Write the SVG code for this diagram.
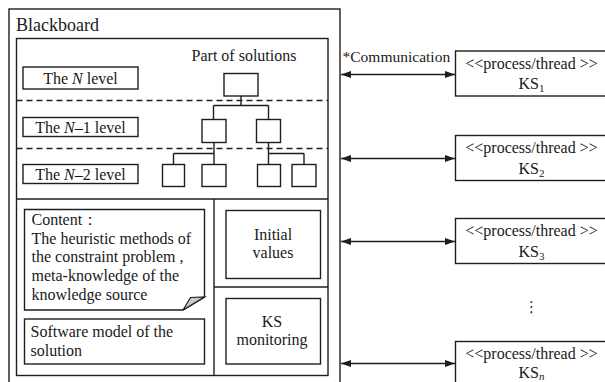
<svg xmlns="http://www.w3.org/2000/svg" width="605" height="382" viewBox="0 0 605 382">
  <defs>
    <style>
      .box { fill: #ffffff; stroke: #1e1e1e; stroke-width: 1.4; }
      .ln { fill: none; stroke: #1e1e1e; stroke-width: 1.4; }
      .dash { fill: none; stroke: #1e1e1e; stroke-width: 1.4; stroke-dasharray: 6 4; }
      .c { text-anchor: middle; }
    </style>
    <marker id="ah" viewBox="0 0 10 10" refX="10" refY="5" markerWidth="10" markerHeight="10" markerUnits="userSpaceOnUse" orient="auto-start-reverse">
      <path d="M0,1.5 L10,5 L0,8.5 Z" fill="#1e1e1e"/>
    </marker>
  </defs>

  <rect width="605" height="382" fill="#ffffff"/>

  <g font-family="Liberation Serif, Times New Roman, serif" font-size="16" fill="#1a1a1a">

  <!-- Blackboard container -->
  <g id="blackboard">
    <rect class="box" x="9" y="9" width="331" height="390"/>
    <text x="16" y="31" font-size="18">Blackboard</text>
    <rect class="box" x="16.5" y="38.5" width="311.5" height="337"/>
    <line class="ln" x1="16.5" y1="199" x2="328" y2="199"/>
    <line class="ln" x1="214" y1="199" x2="214" y2="375.5"/>
    <line class="ln" x1="214" y1="287" x2="328" y2="287"/>
    <line class="dash" x1="16.5" y1="100.5" x2="328" y2="100.5"/>
    <line class="dash" x1="16.5" y1="148.5" x2="328" y2="148.5"/>
  </g>

  <!-- Level labels -->
  <g id="level-n">
    <rect class="box" x="23" y="67" width="115" height="22"/>
    <text class="c" x="80.5" y="83.5">The <tspan font-style="italic">N</tspan> level</text>
  </g>
  <g id="level-n1">
    <rect class="box" x="23" y="117.5" width="115" height="19"/>
    <text class="c" x="80.5" y="132.5">The <tspan font-style="italic">N</tspan>–1 level</text>
  </g>
  <g id="level-n2">
    <rect class="box" x="23" y="164.5" width="115" height="19"/>
    <text class="c" x="80.5" y="179.5">The <tspan font-style="italic">N</tspan>–2 level</text>
  </g>

  <!-- Partial solution tree -->
  <g id="solutions">
    <text class="c" x="244" y="61">Part of solutions</text>
    <rect class="box" x="224" y="73.5" width="34" height="22.5"/>
    <rect class="box" x="202" y="119.5" width="24" height="23"/>
    <rect class="box" x="256.5" y="119.5" width="24" height="23"/>
    <rect class="box" x="162.5" y="164.5" width="22" height="22"/>
    <rect class="box" x="202" y="164.5" width="24" height="22"/>
    <rect class="box" x="257.5" y="164.5" width="23" height="22"/>
    <rect class="box" x="292" y="164.5" width="24" height="22"/>
  </g>

  <g id="tree-links">
    <path class="ln" d="M241,96 V105.5 M213.5,105.5 H268.5 M213.5,105.5 V119.5 M268.5,105.5 V119.5"/>
    <path class="ln" d="M214,142.5 V164.5 M173.5,153.5 H214 M173.5,153.5 V164.5"/>
    <path class="ln" d="M268.5,142.5 V164.5 M268.5,153.5 H304 M304,153.5 V164.5"/>
  </g>

  <!-- Content note with folded corner -->
  <g id="content-note">
    <path class="box" d="M24.5,209.5 H204.5 V297 L183,310 H24.5 Z"/>
    <path d="M183,310 L190.5,297.5 L204.5,297 Z" fill="#c8c8c8" stroke="#1e1e1e" stroke-width="1.2"/>
    <text x="31.5" y="225">Content：</text>
    <text x="31.5" y="243.8">The heuristic methods of</text>
    <text x="31.5" y="262.4">the constraint problem ,</text>
    <text x="31.5" y="281">meta-knowledge of the</text>
    <text x="31.5" y="299.6">knowledge source</text>
  </g>

  <g id="software-model">
    <rect class="box" x="24.5" y="319" width="180" height="45"/>
    <text x="30.5" y="336.5">Software model of the</text>
    <text x="30.5" y="355.5">solution</text>
  </g>

  <g id="initial-values">
    <rect class="box" x="226" y="210.5" width="94.5" height="68"/>
    <text class="c" x="273" y="240">Initial</text>
    <text class="c" x="273" y="258">values</text>
  </g>

  <g id="ks-monitoring">
    <rect class="box" x="226" y="298.5" width="94.5" height="65.5"/>
    <text class="c" x="272" y="327">KS</text>
    <text class="c" x="272" y="345">monitoring</text>
  </g>

  <!-- Knowledge sources -->
  <g id="ks1">
    <rect class="box" x="455.5" y="51" width="155" height="45"/>
    <text class="c" x="531.5" y="68.5">&lt;&lt;process/thread &gt;&gt;</text>
    <text class="c" x="531.5" y="89">KS<tspan font-size="11" dy="3">1</tspan></text>
  </g>
  <g id="ks2">
    <rect class="box" x="455.5" y="135.5" width="155" height="45"/>
    <text class="c" x="531.5" y="153">&lt;&lt;process/thread &gt;&gt;</text>
    <text class="c" x="531.5" y="173.5">KS<tspan font-size="11" dy="3">2</tspan></text>
  </g>
  <g id="ks3">
    <rect class="box" x="455.5" y="218.5" width="155" height="45"/>
    <text class="c" x="531.5" y="236">&lt;&lt;process/thread &gt;&gt;</text>
    <text class="c" x="531.5" y="256.5">KS<tspan font-size="11" dy="3">3</tspan></text>
  </g>
  <g id="ks-ellipsis">
    <text class="c" x="531.5" y="312" font-family="DejaVu Sans, sans-serif" font-size="15">⋮</text>
  </g>
  <g id="ksn">
    <rect class="box" x="455.5" y="341.5" width="155" height="50"/>
    <text class="c" x="531.5" y="359">&lt;&lt;process/thread &gt;&gt;</text>
    <text class="c" x="531.5" y="377.5">KS<tspan font-size="11" dy="2" font-style="italic">n</tspan></text>
  </g>

  <!-- Communication links -->
  <g id="connectors">
    <text x="342.5" y="61.5" font-size="15.5">*Communication</text>
    <line class="ln" x1="341" y1="74.5" x2="455" y2="74.5" marker-start="url(#ah)" marker-end="url(#ah)"/>
    <line class="ln" x1="341" y1="158.5" x2="455" y2="158.5" marker-start="url(#ah)" marker-end="url(#ah)"/>
    <line class="ln" x1="341" y1="241.5" x2="455" y2="241.5" marker-start="url(#ah)" marker-end="url(#ah)"/>
    <line class="ln" x1="341" y1="363.5" x2="455" y2="363.5" marker-start="url(#ah)" marker-end="url(#ah)"/>
  </g>

  </g>
</svg>
